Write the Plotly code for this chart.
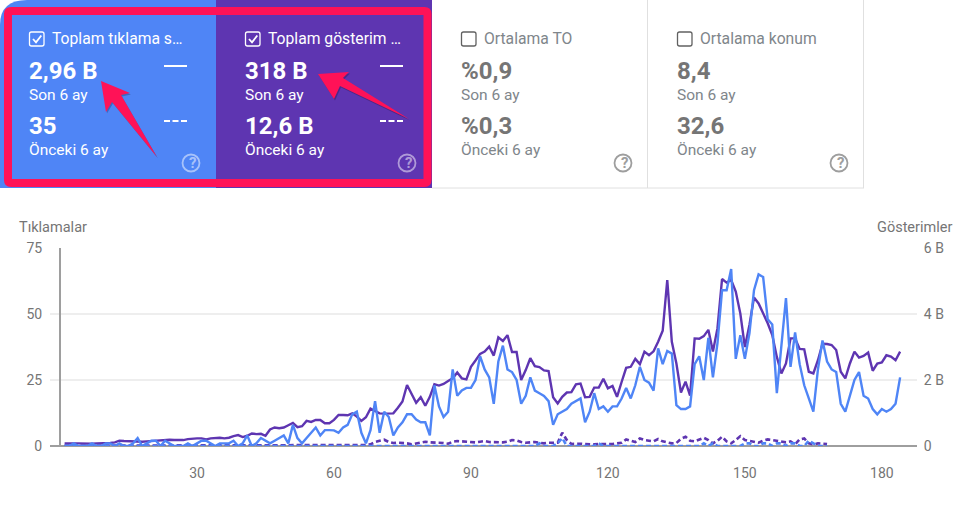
import plotly.graph_objects as go

W, H = 972, 511

# Chart data. Day index runs 1..184
clicks_now = [0, 0, 1, 0, 0, 0, 1, 0, 0, 1, 1, 0, 1, 0, 0, 1, 3, 0, 1, 2,
              2, 0, 2, 1, 0, 0, 0, 1, 0, 1, 2, 2, 1, 0, 1, 1, 1, 2, 0, 1,
              4, 0, 1, 3, 2, 1, 2, 3, 4, 1, 8, 3, 1, 3, 5, 7, 4, 6, 6, 5.9,
              5, 7, 8, 12, 13, 5, 1, 6, 17, 5, 13, 11, 4, 7, 9, 12, 12, 10, 9, 9,
              4, 23, 15, 11, 13, 29, 19, 21, 22, 22, 25, 34, 29, 26, 16, 32, 38, 29, 28, 25,
              16, 19, 26, 21, 20, 19, 17, 8, 12, 13, 14, 16, 17, 18, 9, 13, 20, 14, 15, 13,
              15, 15, 18, 22, 18, 23, 30, 25, 24, 21, 37, 31, 36, 35, 15.5, 14, 14, 15, 31, 34,
              25, 41, 26, 39, 59, 59, 67, 33, 42, 33, 42.7, 59, 65, 64, 48, 46, 20, 39, 56, 30,
              43, 31, 23, 18, 13, 29, 40, 32, 29, 28, 16, 13, 19, 25, 28, 19, 18, 14, 12, 14,
              13, 14, 16, 26]

impressions_now = [0.08, 0.07, 0.08, 0.08, 0.07, 0.06, 0.07, 0.08, 0.08, 0.07,
                   0.09, 0.11, 0.16, 0.15, 0.14, 0.14, 0.12, 0.13, 0.14, 0.15,
                   0.17, 0.18, 0.19, 0.19, 0.18, 0.18, 0.18, 0.21, 0.23, 0.23,
                   0.23, 0.2, 0.23, 0.25, 0.25, 0.23, 0.25, 0.3, 0.33, 0.27,
                   0.31, 0.38, 0.36, 0.37, 0.31, 0.5, 0.56, 0.54, 0.56, 0.63,
                   0.7, 0.57, 0.6, 0.76, 0.73, 0.79, 0.79, 0.69, 0.69, 0.79,
                   0.94, 0.94, 0.93, 0.99, 0.89, 0.76, 0.87, 1.13, 1.06, 0.99,
                   0.98, 0.98, 0.99, 1.16, 1.35, 1.85, 1.58, 1.31, 1.48, 1.22,
                   1.49, 1.87, 1.83, 1.88, 1.97, 2.05, 2.23, 2.05, 2.02, 2.4,
                   2.59, 2.79, 2.86, 3.01, 2.74, 3.29, 3.18, 3.36, 2.85, 2.85,
                   2.0, 2.3, 2.66, 2.42, 2.39, 2.29, 2.27, 1.48, 1.29, 1.49,
                   1.62, 1.63, 1.87, 1.89, 1.48, 1.49, 1.77, 1.77, 2.04, 1.75,
                   1.82, 1.49, 1.94, 2.37, 2.4, 2.64, 2.48, 2.86, 2.75, 2.87,
                   3.16, 3.49, 5.03, 3.16, 2.5, 1.62, 1.95, 1.53, 3.26, 3.25,
                   3.33, 3.52, 2.86, 3.57, 5.06, 4.95, 5.03, 4.68, 4.02, 3.0,
                   3.67, 4.5, 4.32, 4.02, 3.72, 3.36, 2.7, 2.2, 2.5, 3.26,
                   3.26, 2.94, 2.93, 2.25, 2.2, 2.6, 3.1, 3.09, 3.06, 2.91,
                   2.25, 2.05, 2.5, 2.86, 2.68, 2.73, 2.83, 2.28, 2.5, 2.53,
                   2.75, 2.71, 2.6, 2.86]

clicks_prev = [0, 0, 0, 0, 0, 0, 0, 0, 0, 0, 0, 0, 0, 0, 0, 0, 0, 0, 0, 0,
               0, 0, 0, 0, 0, 0, 0, 0, 0, 0, 0, 0, 0, 0, 0, 0, 0, 0, 0, 0,
               0, 0, 0, 0, 0, 0, 0, 0, 0, 0, 0, 0, 0, 0, 0, 0, 0, 0, 0, 0,
               0, 0, 0, 0, 0, 0, 0, 0, 0, 0, 0, 0, 0, 0, 0, 0, 0, 0, 0, 0,
               0, 0, 0, 0, 0, 0, 0, 0, 0, 0, 0, 0, 0, 0, 0, 0, 0, 0, 0, 0,
               0, 0, 0, 0, 1, 0, 0, 0, 1, 3, 0, 0, 0, 0, 0, 0, 0, 1, 0, 0,
               0, 0, 0, 0, 0, 0, 0, 0, 0, 0, 0, 0, 0, 0, 0, 0, 0, 0, 0, 0,
               1, 0, 1, 0, 0, 0, 0, 0, 0, 1, 1, 0, 0, 1, 1, 0, 1, 1, 0, 1,
               1, 0, 0, 2, 1, 0, 0, 0]

impressions_prev = [0.01, 0.01, 0.02, 0.01, 0.01, 0.01, 0.01, 0.01, 0.02, 0.01,
                    0.01, 0.01, 0.01, 0.01, 0.01, 0.02, 0.01, 0.01, 0.01, 0.01,
                    0.01, 0.01, 0.01, 0.01, 0.01, 0.01, 0.01, 0.01, 0.01, 0.01,
                    0.01, 0.01, 0.01, 0.01, 0.01, 0.01, 0.01, 0.01, 0.01, 0.01,
                    0.01, 0.01, 0.01, 0.01, 0.01, 0.01, 0.01, 0.01, 0.01, 0.01,
                    0.01, 0.01, 0.01, 0.01, 0.01, 0.01, 0.01, 0.01, 0.01, 0.01,
                    0.01, 0.01, 0.01, 0.01, 0.01, 0.02, 0.03, 0.05, 0.12, 0.16,
                    0.19, 0.12, 0.09, 0.1, 0.1, 0.08, 0.05, 0.08, 0.12, 0.13,
                    0.11, 0.11, 0.1, 0.09, 0.07, 0.13, 0.15, 0.14, 0.13, 0.12,
                    0.11, 0.13, 0.15, 0.12, 0.11, 0.12, 0.11, 0.13, 0.18, 0.17,
                    0.12, 0.1, 0.12, 0.12, 0.1, 0.08, 0.1, 0.1, 0.1, 0.4,
                    0.18, 0.06, 0.07, 0.07, 0.06, 0.05, 0.05, 0.06, 0.07, 0.06,
                    0.06, 0.08, 0.1, 0.2, 0.15, 0.12, 0.23, 0.18, 0.16, 0.14,
                    0.21, 0.14, 0.11, 0.08, 0.09, 0.22, 0.28, 0.16, 0.14, 0.2,
                    0.25, 0.18, 0.08, 0.16, 0.28, 0.14, 0.08, 0.18, 0.3, 0.18,
                    0.16, 0.14, 0.1, 0.16, 0.2, 0.18, 0.15, 0.14, 0.11, 0.14,
                    0.05, 0.2, 0.23, 0.08, 0.05, 0.08, 0.06, 0.06]

days_now = list(range(1, len(clicks_now) + 1))
days_prev = list(range(1, len(clicks_prev) + 1))

x_ticks = [30, 60, 90, 120, 150, 180]
click_ticks = [0, 25, 50, 75]
impression_ticks = [0, 2, 4, 6]
impression_labels = ["0", "2 B", "4 B", "6 B"]

# Cards: left edge, title, values, checked
cards = [
    (0, "Toplam tıklama s…", "2,96 B", "35", True),
    (216, "Toplam gösterim …", "318 B", "12,6 B", True),
    (432, "Ortalama TO", "%0,9", "%0,3", False),
    (648, "Ortalama konum", "8,4", "32,6", False),
]

BLUE = "#4f85f6"
PURPLE = "#5e35b1"
PINK = "#ff1257"
GREY = "#757575"
FONT = "Roboto"


def fx(x):
    return x / W


def fy(y):
    return 1 - y / H


def poly(points):
    return "M " + " L ".join(f"{fx(x):.5f},{fy(y):.5f}" for x, y in points) + " Z"


def line_path(points):
    return "M " + " L ".join(f"{fx(x):.5f},{fy(y):.5f}" for x, y in points)


def round_rect(x0, y0, x1, y1, r):
    p = lambda x, y: f"{fx(x):.5f},{fy(y):.5f}"
    return (f"M {p(x0 + r, y0)} L {p(x1 - r, y0)} Q {p(x1, y0)} {p(x1, y0 + r)} "
            f"L {p(x1, y1 - r)} Q {p(x1, y1)} {p(x1 - r, y1)} "
            f"L {p(x0 + r, y1)} Q {p(x0, y1)} {p(x0, y1 - r)} "
            f"L {p(x0, y0 + r)} Q {p(x0, y0)} {p(x0 + r, y0)} Z")


shapes = []
notes = []


def add_shape(**kw):
    shapes.append(dict(xref="paper", yref="paper", **kw))


def add_text(x, y, text, size, color, bold=False, anchor="left"):
    # annotation boxes carry a little padding, take it back on the left
    nudge = -1.5 if anchor == "left" else 0
    notes.append(dict(x=fx(x + nudge), y=fy(y), xref="paper", yref="paper", text=f"<b>{text}</b>" if bold else text,
                      showarrow=False, xanchor=anchor, yanchor="middle", borderpad=0,
                      font=dict(family=FONT, size=size, color=color)))


# Card backgrounds
p = lambda x, y: f"{fx(x):.5f},{fy(y):.5f}"
add_shape(type="path", path=f"M {p(0, 188)} L {p(0, 25)} Q {p(0, 0)} {p(27, 0)} L {p(216, 0)} L {p(216, 188)} Z",
          fillcolor=BLUE, line=dict(width=0))
add_shape(type="rect", x0=fx(216), x1=fx(432), y0=fy(188), y1=fy(0), fillcolor=PURPLE, line=dict(width=0))
add_shape(type="line", x0=fx(647.5), x1=fx(647.5), y0=fy(188), y1=fy(0), line=dict(color="#e0e0e0", width=1))
add_shape(type="line", x0=fx(863.5), x1=fx(863.5), y0=fy(188), y1=fy(0), line=dict(color="#e0e0e0", width=1))
add_shape(type="line", x0=fx(432), x1=fx(864), y0=fy(188), y1=fy(188), line=dict(color="#e0e0e0", width=1))

for left, title, now, prev, checked in cards:
    ink = "white" if checked else GREY
    soft = "white" if checked else "#80868b"
    box = "white" if checked else "#616161"
    add_shape(type="path", path=round_rect(left + 29.5, 32, left + 44, 46, 2), line=dict(color=box, width=1.3))
    if checked:
        add_shape(type="path", path=line_path([(left + 33, 39), (left + 36, 42.3), (left + 41.3, 35.5)]),
                  line=dict(color="white", width=1.8))
        add_shape(type="line", x0=fx(left + 164), x1=fx(left + 187), y0=fy(66), y1=fy(66),
                  line=dict(color="white", width=2))
        add_shape(type="line", x0=fx(left + 164), x1=fx(left + 187), y0=fy(121), y1=fy(121),
                  line=dict(color="white", width=2, dash="6px,2.5px"))
    add_text(left + 52, 38, title, 15.7, soft)
    add_text(left + 29, 71, now, 24, ink, bold=True)
    add_text(left + 29, 95, "Son 6 ay", 15.5, soft)
    add_text(left + 29, 126, prev, 24, ink, bold=True)
    add_text(left + 29, 150, "Önceki 6 ay", 15.5, soft)
    hc = "rgba(255,255,255,0.5)" if checked else "#9e9e9e"
    add_shape(type="circle", x0=fx(left + 182.5), x1=fx(left + 199.5), y0=fy(171.5), y1=fy(154.5),
              line=dict(color=hc, width=1.8))
    add_text(left + 192.5, 163, "?", 15, hc, bold=True, anchor="center")

# Highlight frame and arrows
add_shape(type="path", path=round_rect(8, 11, 427.5, 183, 3), line=dict(color=PINK, width=8))
arrow_a = [(101, 81), (130, 93), (121, 95), (157, 157), (112, 102), (106, 112)]
arrow_b = [(318, 74), (349, 72), (343, 78), (409, 119), (340, 86), (334, 99)]
for arrow in (arrow_a, arrow_b):
    add_shape(type="path", path=poly([(x + 1, y + 1.5) for x, y in arrow]),
              fillcolor="rgba(0,0,0,0.22)", line=dict(width=0))
    add_shape(type="path", path=poly(arrow), fillcolor=PINK, line=dict(width=0))

add_text(19, 227, "Tıklamalar", 14.5, GREY)
add_text(953, 227, "Gösterimler", 14.5, GREY, anchor="right")

fig = go.Figure()

# impressions go on the base axis so the click lines draw on top of them
fig.add_trace(go.Scatter(x=days_now, y=impressions_now, mode="lines", yaxis="y", cliponaxis=False,
                         line=dict(color=PURPLE, width=2.4)))
fig.add_trace(go.Scatter(x=days_prev, y=impressions_prev, mode="lines", yaxis="y", cliponaxis=False,
                         line=dict(color=PURPLE, width=2.6, dash="5px,3px")))
fig.add_trace(go.Scatter(x=days_now, y=clicks_now, mode="lines", yaxis="y2", cliponaxis=False,
                         line=dict(color=BLUE, width=2.4)))
fig.add_trace(go.Scatter(x=days_prev, y=clicks_prev, mode="lines", yaxis="y2", cliponaxis=False,
                         line=dict(color=BLUE, width=2.6, dash="5px,3px")))

tick_font = dict(family=FONT, size=14, color=GREY)

fig.update_layout(
    width=W,
    height=H,
    margin=dict(l=0, r=0, t=0, b=0, autoexpand=False),
    paper_bgcolor="white",
    plot_bgcolor="white",
    showlegend=False,
    font=dict(family=FONT),
    shapes=shapes,
    annotations=notes,
    xaxis=dict(
        domain=[fx(50), fx(917)],
        range=[-2.2, 187.7],
        tickmode="array",
        tickvals=x_ticks,
        ticks="outside",
        ticklen=14,
        tickcolor="rgba(0,0,0,0)",
        tickfont=tick_font,
        showgrid=False,
        zeroline=True,
        zerolinecolor="#9e9e9e",
        zerolinewidth=2,
        showline=False,
    ),
    yaxis=dict(
        domain=[fy(446), fy(248)],
        side="right",
        range=[0, 6],
        tickmode="array",
        tickvals=impression_ticks,
        ticktext=impression_labels,
        ticks="outside",
        ticklen=3,
        tickcolor="rgba(0,0,0,0)",
        tickfont=tick_font,
        showgrid=True,
        gridcolor="#eeeeee",
        gridwidth=2,
        zeroline=True,
        zerolinecolor="#9e9e9e",
        zerolinewidth=2,
    ),
    yaxis2=dict(
        overlaying="y",
        side="left",
        range=[0, 75],
        tickmode="array",
        tickvals=click_ticks,
        ticks="outside",
        ticklen=4,
        tickcolor="rgba(0,0,0,0)",
        tickfont=tick_font,
        showgrid=False,
        zeroline=False,
    ),
)

fig.write_html("out.html", config=dict(displayModeBar=False), post_script="document.body.style.margin='0';")
